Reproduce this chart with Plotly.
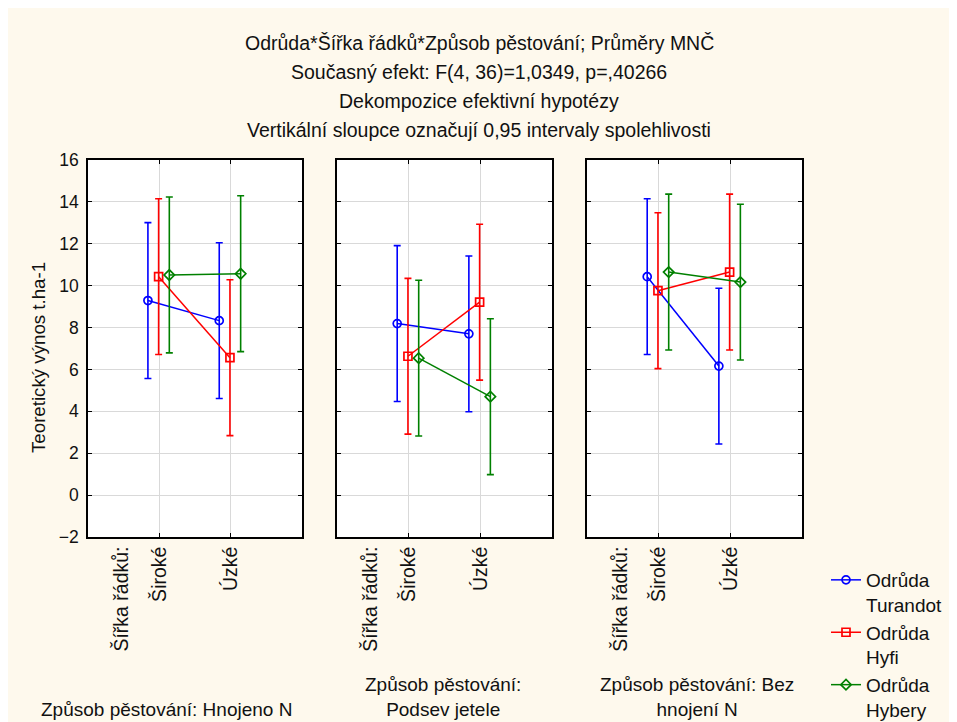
import plotly.graph_objects as go

# ---- data ----
row_width = ["Široké", "Úzké"]
methods = ["Hnojeno N", "Podsev jetele", "Bez hnojení N"]
method_labels = ["Způsob pěstování: Hnojeno N",
                 "Způsob pěstování:<br>Podsev jetele",
                 "Způsob pěstování: Bez<br>hnojení N"]
varieties = ["Turandot", "Hyfi", "Hybery"]
# means per method -> [Široké, Úzké]
turandot_mean = [[9.29, 8.33], [8.19, 7.70], [10.43, 6.16]]
hyfi_mean = [[10.43, 6.56], [6.63, 9.21], [9.76, 10.65]]
hybery_mean = [[10.51, 10.57], [6.54, 4.70], [10.65, 10.17]]
ci_half = 3.72  # half-width of 0.95 confidence interval
y_ticks = [-2, 0, 2, 4, 6, 8, 10, 12, 14, 16]

means = [turandot_mean, hyfi_mean, hybery_mean]
colors = ["#0000FF", "#FF0000", "#008000"]
symbols = ["circle-open", "square-open", "diamond-open"]
offsets = [-0.16, -0.01, 0.14]

W, H = 957, 722
FONT = "Liberation Sans, Arial, sans-serif"
TXT = "#111111"
BG = "#FEF9ED"
FS = 19.5

panels_px = [(80, 294), (329, 544), (579, 794)]
y_dom = [1 - 529 / H, 1 - 152 / H]

fig = go.Figure()
for p in range(3):
    xa = "x" if p == 0 else f"x{p+1}"
    ya = "y" if p == 0 else f"y{p+1}"
    for v in range(3):
        xs = [i + offsets[v] for i in range(len(row_width))]
        fig.add_trace(go.Scatter(
            x=xs, y=means[v][p], xaxis=xa, yaxis=ya,
            mode="lines+markers",
            name="Odrůda<br>" + varieties[v],
            legendgroup=varieties[v], showlegend=(p == 0),
            line=dict(color=colors[v], width=1.5),
            marker=dict(symbol=symbols[v], size=8, color=colors[v],
                        line=dict(color=colors[v], width=1.7)),
            error_y=dict(type="constant", value=ci_half, color=colors[v],
                         thickness=1.6, width=3.5),
        ))

layout = dict(
    width=W, height=H,
    margin=dict(l=0, r=0, t=0, b=0, autoexpand=False),
    paper_bgcolor=BG, plot_bgcolor="white",
    font=dict(family=FONT, size=FS, color=TXT),
    showlegend=True,
    legend=dict(x=818 / W, y=1 - 553 / H, xanchor="left", yanchor="top",
                bgcolor="rgba(0,0,0,0)", valign="top",
                font=dict(family=FONT, size=19, color=TXT),
                tracegroupgap=0, itemwidth=30),
)
for p in range(3):
    xk = "xaxis" if p == 0 else f"xaxis{p+1}"
    yk = "yaxis" if p == 0 else f"yaxis{p+1}"
    x0, x1 = panels_px[p]
    layout[xk] = dict(
        domain=[x0 / W, x1 / W], range=[-1, 2], automargin=False,
        anchor="y" if p == 0 else f"y{p+1}",
        tickmode="array", tickvals=[0, 1], ticktext=row_width,
        tickangle=-90, ticks="inside", ticklen=4, tickcolor="black",
        showline=True, linecolor="black", linewidth=1.6, mirror="ticks",
        showgrid=True, gridcolor="#D9D9D9", gridwidth=1, zeroline=False,
        tickfont=dict(family=FONT, size=FS, color=TXT),
    )
    layout[yk] = dict(
        domain=y_dom, range=[-2, 16], automargin=False,
        anchor="x" if p == 0 else f"x{p+1}",
        tickmode="array", tickvals=y_ticks,
        showticklabels=(p == 0),
        ticks="inside", ticklen=4, tickcolor="black",
        showline=True, linecolor="black", linewidth=1.6, mirror="ticks",
        showgrid=True, gridcolor="#D9D9D9", gridwidth=1, zeroline=False,
        tickfont=dict(family=FONT, size=17.5, color=TXT),
        ticklabelstandoff=4,
    )
    if p > 0:
        layout[yk]["matches"] = "y"
fig.update_layout(**layout)

# y axis title
fig.add_annotation(text="Teoretický výnos t.ha-1", x=30 / W, y=1 - 350 / H,
                   xref="paper", yref="paper", textangle=-90, showarrow=False,
                   xanchor="center", yanchor="middle",
                   font=dict(family=FONT, size=18.7, color=TXT))

# titles
title_lines = ["Odrůda*Šířka řádků*Způsob pěstování; Průměry MNČ",
               "Současný efekt: F(4, 36)=1,0349, p=,40266",
               "Dekompozice efektivní hypotézy",
               "Vertikální sloupce označují 0,95 intervaly spolehlivosti"]
for i, t in enumerate(title_lines):
    fig.add_annotation(text=t, x=471 / W, y=1 - (35 + 29 * i) / H,
                       xref="paper", yref="paper", showarrow=False,
                       xanchor="center", yanchor="middle",
                       font=dict(family=FONT, size=FS, color=TXT))

# row-width factor label on each panel
for p in range(3):
    xa = "x" if p == 0 else f"x{p+1}"
    fig.add_annotation(text="Šířka řádků:", x=-0.55, xref=xa,
                       y=1 - 537 / H, yref="paper", textangle=-90,
                       showarrow=False, xanchor="center", yanchor="top",
                       font=dict(family=FONT, size=FS, color=TXT))

# method labels under panels
label_pos = [(158, 701.5), (435, 688.5), (689, 688.5)]
for (cx, cy), t in zip(label_pos, method_labels):
    fig.add_annotation(text=t, x=cx / W, y=1 - cy / H, xref="paper", yref="paper",
                       showarrow=False, xanchor="center", yanchor="middle",
                       font=dict(family=FONT, size=19, color=TXT))

fig.write_html("out.html")
